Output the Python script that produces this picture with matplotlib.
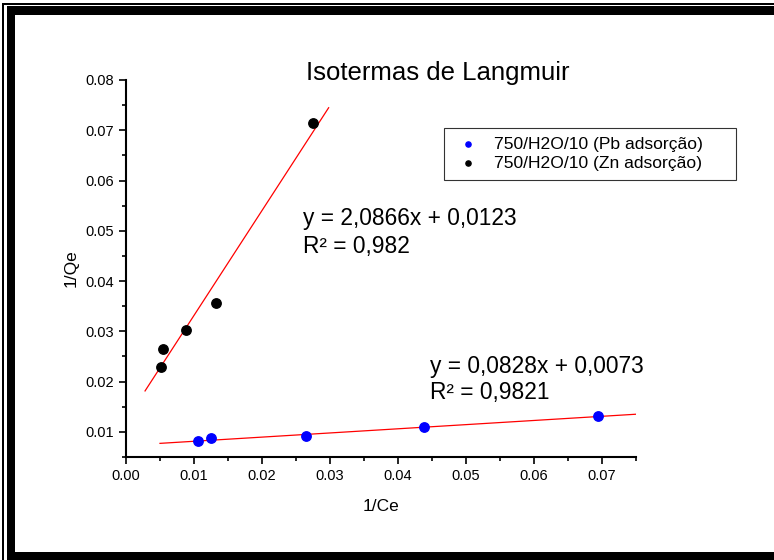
import matplotlib
matplotlib.use("Agg")
import matplotlib.pyplot as plt
import numpy as np
from matplotlib.patches import Rectangle
from matplotlib.ticker import MultipleLocator

plt.rcParams['font.family'] = ['Liberation Sans', 'DejaVu Sans']

# Data
pb_x = [0.0106, 0.0125, 0.0264, 0.0438, 0.0694]
pb_y = [0.0082, 0.0087, 0.0091, 0.0110, 0.0132]
zn_x = [0.0051, 0.0054, 0.0088, 0.0132, 0.0275]
zn_y = [0.0229, 0.0265, 0.0302, 0.0356, 0.0714]

pb_slope, pb_intercept = 0.0828, 0.0073
zn_slope, zn_intercept = 2.0866, 0.0123
pb_line_x = [0.005, 0.075]
zn_line_x = [0.0028, 0.0298]

W, H = 774, 560
fig = plt.figure(figsize=(W/100, H/100), dpi=100)
ax = fig.add_axes([126/W, 1-457/H, (636-126)/W, (457-80)/H])

ax.scatter(pb_x, pb_y, s=46, color='#0000ff', zorder=3, label='750/H2O/10 (Pb adsorção)')
ax.scatter(zn_x, zn_y, s=46, color='black', zorder=3, label='750/H2O/10 (Zn adsorção)')

lx = np.array(pb_line_x)
ax.plot(lx, pb_slope*lx + pb_intercept, color='red', lw=0.9, zorder=2)
lx = np.array(zn_line_x)
ax.plot(lx, zn_slope*lx + zn_intercept, color='red', lw=0.9, zorder=2)

ax.set_xlim(0, 0.075)
ax.set_ylim(0.005, 0.08)
ax.xaxis.set_major_locator(MultipleLocator(0.01))
ax.xaxis.set_minor_locator(MultipleLocator(0.005))
ax.yaxis.set_minor_locator(MultipleLocator(0.005))
ax.set_yticks([0.01, 0.02, 0.03, 0.04, 0.05, 0.06, 0.07, 0.08])
ax.xaxis.set_major_formatter(matplotlib.ticker.FormatStrFormatter('%.2f'))
ax.yaxis.set_major_formatter(matplotlib.ticker.FormatStrFormatter('%.2f'))
ax.tick_params(which='major', length=5, width=1.2, labelsize=10.5, direction='out')
ax.tick_params(which='minor', length=3, width=1.2, direction='out')
for s in ['top', 'right']:
    ax.spines[s].set_visible(False)
for s in ['left', 'bottom']:
    ax.spines[s].set_linewidth(1.5)

ax.set_xlabel('1/Ce', fontsize=12.5, labelpad=12)
ax.set_ylabel('1/Qe', fontsize=12.5, labelpad=5)

fig.text(438/W, 1-73/H, 'Isotermas de Langmuir', fontsize=18.5, ha='center', va='center')
fig.text(303/W, 1-218/H, 'y = 2,0866x + 0,0123', fontsize=16.4, ha='left', va='center')
fig.text(303/W, 1-247/H, 'R² = 0,982', fontsize=16.4, ha='left', va='center')
fig.text(430/W, 1-366/H, 'y = 0,0828x + 0,0073', fontsize=16.4, ha='left', va='center')
fig.text(430/W, 1-393/H, 'R² = 0,9821', fontsize=16.4, ha='left', va='center')

x0 = (444-126)/510
wid = (736-444)/510
ytop = 1-(128-80)/377
leg = ax.legend(loc='upper left', bbox_to_anchor=(x0, ytop-0.2, wid, 0.2), mode='expand',
                fontsize=12.6, frameon=True, fancybox=False, edgecolor='black',
                borderpad=0.5, handletextpad=0.55, labelspacing=0.2, markerscale=0.55,
                borderaxespad=0, handlelength=1.8)
leg.get_frame().set_linewidth(0.8)

def rect(x0, y0, x1, y1):
    fig.add_artist(Rectangle((x0/W, 1-y1/H), (x1-x0)/W, (y1-y0)/H,
                             transform=fig.transFigure, facecolor='black',
                             edgecolor='none', zorder=10))
# thin outer line
rect(2, 2.5, 774, 4.5)
rect(2, 2.5, 4, 560)
# thick band
rect(7, 6, 774, 15)
rect(7, 6, 15, 560)
rect(7, 552, 774, 560)

fig.savefig('out.png', dpi=100)
